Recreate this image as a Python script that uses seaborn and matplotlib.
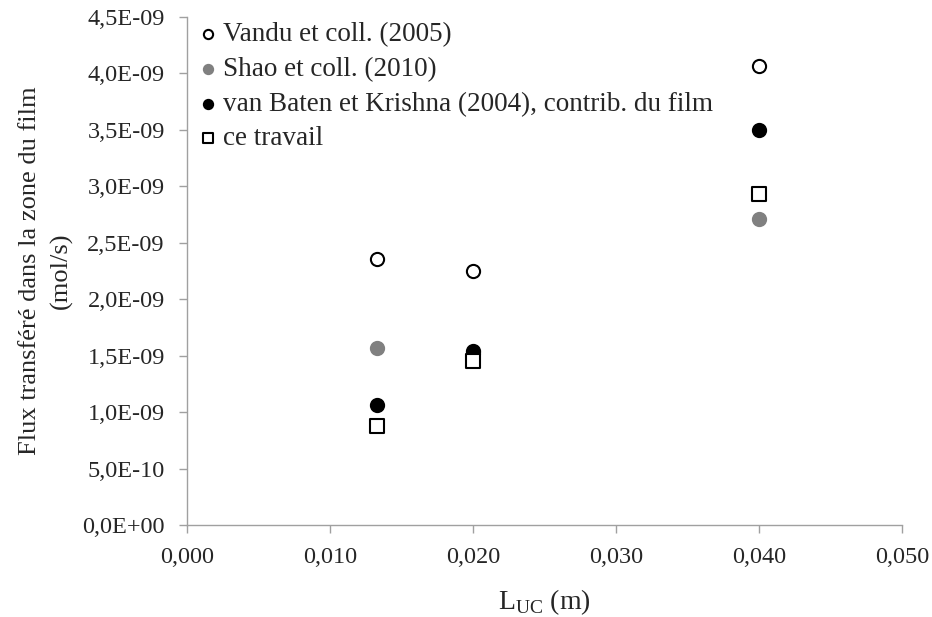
import numpy as np
import pandas as pd
import matplotlib
matplotlib.use('Agg')
import matplotlib.pyplot as plt
import seaborn as sns
from matplotlib.ticker import FuncFormatter

# data
l_uc = [0.0133, 0.020, 0.040]
vandu = [2.36e-9, 2.25e-9, 4.07e-9]
shao = [1.57e-9, 1.52e-9, 2.71e-9]
van_baten = [1.06e-9, 1.54e-9, 3.50e-9]
ce_travail = [0.88e-9, 1.45e-9, 2.93e-9]

series_labels = ['Vandu et coll. (2005)', 'Shao et coll. (2010)',
                 'van Baten et Krishna (2004), contrib. du film', 'ce travail']

sns.set_style('white')
plt.rcParams['font.family'] = ['Liberation Serif', 'DejaVu Serif']
plt.rcParams['mathtext.fontset'] = 'custom'
plt.rcParams['mathtext.rm'] = 'Liberation Serif'

fig, ax = plt.subplots(figsize=(9.32, 6.17), dpi=100)
fig.subplots_adjust(left=0.2006, right=0.9678, top=0.9724, bottom=0.149)

styles = [
    dict(marker='o', facecolor='white', edgecolor='black'),
    dict(marker='o', facecolor='#808080', edgecolor='#808080'),
    dict(marker='o', facecolor='black', edgecolor='black'),
    dict(marker='s', facecolor='white', edgecolor='black'),
]
for values, label, st in zip([vandu, shao, van_baten, ce_travail], series_labels, styles):
    sns.scatterplot(x=l_uc, y=values, ax=ax, marker=st['marker'], s=90,
                    color=st['facecolor'], edgecolor=st['edgecolor'], linewidth=1.5,
                    label=label, zorder=3)

ax.set_xlim(0, 0.05)
ax.set_ylim(0, 4.5e-9)
ax.set_xticks(np.arange(0, 0.0501, 0.01))
ax.set_yticks(np.arange(0, 4.51e-9, 0.5e-9))
ax.xaxis.set_major_formatter(FuncFormatter(lambda v, p: f'{v:.3f}'.replace('.', ',')))
ax.yaxis.set_major_formatter(FuncFormatter(lambda v, p: f'{v:.1E}'.replace('.', ',')))
ax.tick_params(axis='both', labelsize=17.5, color='#a0a0a0', length=6, width=1,
               direction='out', bottom=True, left=True)
ax.tick_params(axis='y', pad=10)
ax.tick_params(axis='x', pad=10)

for side in ['top', 'right']:
    ax.spines[side].set_visible(False)
for side in ['left', 'bottom']:
    ax.spines[side].set_color('#a0a0a0')
    ax.spines[side].set_linewidth(1)

ax.set_xlabel(r'L$_{\mathrm{UC}}$ (m)', fontsize=20, labelpad=14)
ax.set_ylabel('Flux transféré dans la zone du film\n(mol/s)', fontsize=19,
              labelpad=7, linespacing=1.5)

leg = ax.legend(loc='upper left', bbox_to_anchor=(0.018, 0.99), frameon=False,
                fontsize=19.5, handletextpad=0.25, handlelength=0.6, borderpad=0,
                markerscale=0.7, labelspacing=0.36, borderaxespad=0)

fig.savefig('out.png', dpi=100)
